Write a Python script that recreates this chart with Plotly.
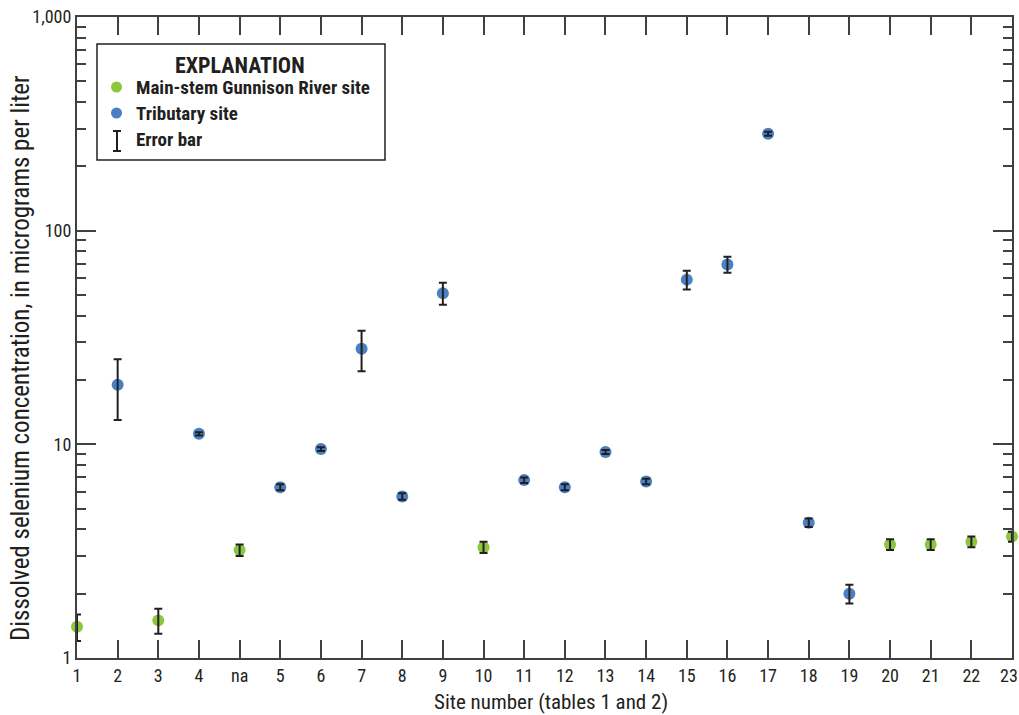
import plotly.graph_objects as go

# ---- data ----
site_labels = ["1", "2", "3", "4", "na", "5", "6", "7", "8", "9", "10", "11",
               "12", "13", "14", "15", "16", "17", "18", "19", "20", "21", "22", "23"]
site_type = ["main", "trib", "main", "trib", "main", "trib", "trib", "trib", "trib", "trib", "main", "trib",
             "trib", "trib", "trib", "trib", "trib", "trib", "trib", "trib", "main", "main", "main", "main"]
selenium = [1.4, 19, 1.5, 11.2, 3.2, 6.3, 9.5, 28, 5.7, 51, 3.3, 6.8,
            6.3, 9.2, 6.7, 59, 69.5, 284, 4.3, 2.0, 3.4, 3.4, 3.5, 3.7]
error = [0.2, 6, 0.2, 0.2, 0.2, 0.2, 0.2, 6, 0.2, 6, 0.2, 0.2,
         0.2, 0.2, 0.2, 6, 6, 6, 0.2, 0.2, 0.2, 0.2, 0.2, 0.2]

y_major = [1, 10, 100, 1000]
y_major_text = ["1", "10", "100", "1,000"]

GREEN = "#8cc63f"
BLUE = "#4a80c1"
INK = "#231f20"
AXC = "#404040"
FONT = "Liberation Sans Narrow, Roboto Condensed, Arial Narrow, sans-serif"

xpos = list(range(len(site_labels)))

fig = go.Figure()
for kind, color, name in [("main", GREEN, "Main-stem Gunnison River site"), ("trib", BLUE, "Tributary site")]:
    idx = [i for i, t in enumerate(site_type) if t == kind]
    fig.add_trace(go.Scatter(
        x=[xpos[i] for i in idx], y=[selenium[i] for i in idx],
        mode="markers", name=name, cliponaxis=False,
        marker=dict(color=color, size=12, line=dict(width=0)),
        showlegend=False))

# error bars drawn on top of the dots
fig.add_trace(go.Scatter(
    x=xpos, y=selenium, mode="markers", cliponaxis=False, showlegend=False,
    marker=dict(color="rgba(0,0,0,0)", size=1),
    error_y=dict(type="data", array=error, color=INK, thickness=2, width=4),
    hoverinfo="skip"))

minor_vals = [m * d for d in [1, 10, 100] for m in range(2, 10)]

L, R, T, B = 77, 1012, 17, 658
W, H = 1019, 715

# last tick label is placed right-aligned at the page edge (as in the reference) so it is not cut off
tick_text = site_labels[:-1] + [""]

fig.update_layout(
    width=W, height=H,
    margin=dict(l=L, r=W - R, t=T, b=H - B, autoexpand=False),
    paper_bgcolor="white", plot_bgcolor="white",
    font=dict(family=FONT, size=18, color=INK),
    xaxis=dict(
        range=[0, 23], tickmode="array", tickvals=xpos, ticktext=tick_text,
        ticks="inside", ticklen=18, tickwidth=1.5, tickcolor=AXC,
        showline=True, linecolor=AXC, linewidth=2, mirror="ticks",
        showgrid=False, zeroline=False, automargin=False, ticklabeloverflow="allow",
        tickfont=dict(size=18)),
    yaxis=dict(
        type="log", range=[0, 3], tickmode="array", tickvals=y_major, ticktext=y_major_text,
        ticks="inside", ticklen=19, tickwidth=1.5, tickcolor=AXC,
        showline=True, linecolor=AXC, linewidth=2, mirror="ticks",
        showgrid=False, zeroline=False, automargin=False, ticklabeloverflow="allow",
        minor=dict(tickvals=minor_vals, ticks="inside", ticklen=9, tickwidth=1.5,
                   tickcolor=AXC, showgrid=False),
        tickfont=dict(size=18)),
)

def px(x):
    return (x - L) / (R - L)
def py(y):
    return (B - y) / (B - T)

fig.add_annotation(xref="paper", yref="paper", x=px(1019), y=py(675), text=site_labels[-1],
                   showarrow=False, font=dict(size=18, family=FONT), xanchor="right", yanchor="middle",
                   borderpad=0)

# axis titles
fig.add_annotation(xref="paper", yref="paper", x=px(551), y=py(702),
                   text="Site number (tables 1 and 2)", showarrow=False,
                   font=dict(size=21, family=FONT), xanchor="center", yanchor="middle")
fig.add_annotation(xref="paper", yref="paper", x=px(20), y=py(358),
                   text="Dissolved selenium concentration, in micrograms per liter", showarrow=False,
                   textangle=-90, font=dict(size=25, family=FONT), xanchor="center", yanchor="middle")

# ---- explanation box ----
fig.add_shape(type="rect", xref="paper", yref="paper",
              x0=px(97), x1=px(385), y0=py(160), y1=py(44),
              line=dict(color=INK, width=1.5), fillcolor="white", layer="above")
fig.add_annotation(xref="paper", yref="paper", x=px(240), y=py(65), text="<b>EXPLANATION</b>",
                   showarrow=False, font=dict(size=22, family=FONT), xanchor="center", yanchor="middle")
legend_items = [("Main-stem Gunnison River site", GREEN, 87), ("Tributary site", BLUE, 113)]
for label, color, yy in legend_items:
    fig.add_shape(type="circle", xref="paper", yref="paper",
                  x0=px(111), x1=px(122), y0=py(yy + 5.5), y1=py(yy - 5.5),
                  line=dict(width=0), fillcolor=color, layer="above")
    fig.add_annotation(xref="paper", yref="paper", x=px(134), y=py(yy), text="<b>%s</b>" % label,
                       showarrow=False, font=dict(size=19, family=FONT), xanchor="left", yanchor="middle")
fig.add_shape(type="line", xref="paper", yref="paper", x0=px(117), x1=px(117), y0=py(151), y1=py(131),
              line=dict(color=INK, width=2), layer="above")
for yy in (131, 151):
    fig.add_shape(type="line", xref="paper", yref="paper", x0=px(113), x1=px(121), y0=py(yy), y1=py(yy),
                  line=dict(color=INK, width=2), layer="above")
fig.add_annotation(xref="paper", yref="paper", x=px(134), y=py(140), text="<b>Error bar</b>",
                   showarrow=False, font=dict(size=19, family=FONT), xanchor="left", yanchor="middle")

fig.write_html("out.html", config={"displayModeBar": False},
               post_script="document.body.style.margin='0';document.body.style.overflow='hidden';")
